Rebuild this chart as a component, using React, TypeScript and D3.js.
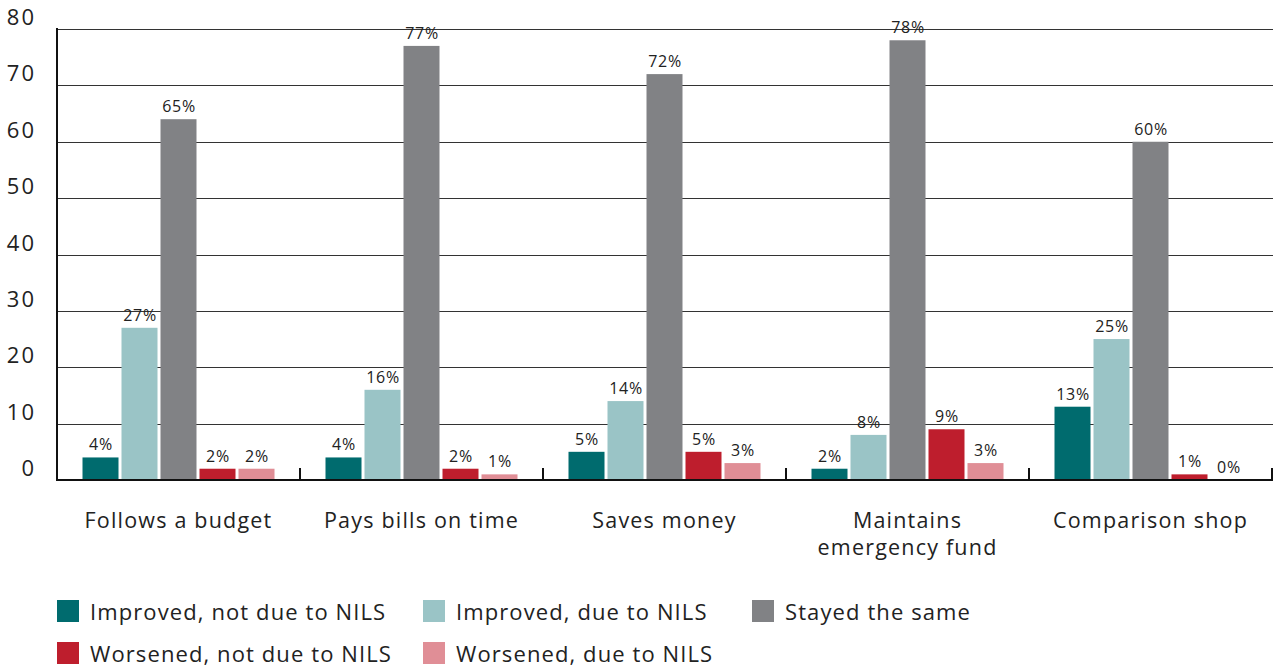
import React from "react";
import * as d3 from "d3";

const categories = [
  ["Follows a budget"],
  ["Pays bills on time"],
  ["Saves money"],
  ["Maintains", "emergency fund"],
  ["Comparison shop"],
];
const seriesNames = [
  "Improved, not due to NILS",
  "Improved, due to NILS",
  "Stayed the same",
  "Worsened, not due to NILS",
  "Worsened, due to NILS",
];
const seriesColors = ["#006B6E", "#9AC4C6", "#818285", "#BE1E2D", "#E08E96"];
// bar heights per category (series order)
const improvedNot = [4, 4, 5, 2, 13];
const improvedDue = [27, 16, 14, 8, 25];
const stayedSame = [64, 77, 72, 78, 60];
const worsenedNot = [2, 2, 5, 9, 1];
const worsenedDue = [2, 1, 3, 3, 0];
const labelsImprovedNot = ["4%", "4%", "5%", "2%", "13%"];
const labelsImprovedDue = ["27%", "16%", "14%", "8%", "25%"];
const labelsStayed = ["65%", "77%", "72%", "78%", "60%"];
const labelsWorsenedNot = ["2%", "2%", "5%", "9%", "1%"];
const labelsWorsenedDue = ["2%", "1%", "3%", "3%", "0%"];
const yTicks = [0, 10, 20, 30, 40, 50, 60, 70, 80];

const series = [improvedNot, improvedDue, stayedSame, worsenedNot, worsenedDue];
const seriesLabels = [labelsImprovedNot, labelsImprovedDue, labelsStayed, labelsWorsenedNot, labelsWorsenedDue];

const FONT = "'Open Sans', sans-serif";

export default function App() {
  const W = 1279, H = 668;
  const left = 57, right = 1272, top = 29, bottom = 480;
  const y = d3.scaleLinear().domain([0, 80]).range([bottom, top]);
  const x0 = d3.scaleBand<number>().domain(d3.range(categories.length)).range([left, right]).padding(0);
  const gw = x0.bandwidth();
  const x1 = d3.scaleBand<number>().domain(d3.range(series.length))
    .range([25.5, gw - 25.5]).paddingInner(3 / 39).paddingOuter(0);

  const legendItems = [
    { i: 0, x: 57, y: 600 },
    { i: 1, x: 423, y: 600 },
    { i: 2, x: 752, y: 600 },
    { i: 3, x: 57, y: 642 },
    { i: 4, x: 423, y: 642 },
  ];

  return (
    <svg width={W} height={H} style={{ position: "absolute", left: 0, top: 0 }} fontFamily={FONT}>
      {/* gridlines */}
      {yTicks.filter(t => t > 0).map(t => (
        <line key={t} x1={left} x2={right + 1} y1={Math.round(y(t)) + 0.5} y2={Math.round(y(t)) + 0.5} stroke="#333" strokeWidth={1.2} />
      ))}
      {/* y labels */}
      {yTicks.map(t => (
        <text key={t} x={36} y={y(t) - 4} textAnchor="end" fontSize={22} letterSpacing={2} fill="#222">{t}</text>
      ))}
      {/* bars */}
      {categories.map((c, ci) => (
        <g key={ci} transform={`translate(${x0(ci)},0)`}>
          {series.map((s, si) => (
            <g key={si}>
              {s[ci] > 0 && (
                <rect x={x1(si)} width={x1.bandwidth()} y={y(s[ci])} height={y(0) - y(s[ci])} fill={seriesColors[si]} />
              )}
              <text x={(x1(si) as number) + x1.bandwidth() / 2 + 0.5} y={y(s[ci]) - 7} textAnchor="middle" fontSize={16} letterSpacing={0.7} fill="#222">
                {seriesLabels[si][ci]}
              </text>
            </g>
          ))}
        </g>
      ))}
      {/* axes */}
      <line x1={left} x2={left} y1={top - 1} y2={bottom + 1} stroke="#111" strokeWidth={2} />
      <line x1={left - 1} x2={right + 1} y1={bottom} y2={bottom} stroke="#111" strokeWidth={2} />
      {categories.map((c, ci) => (
        <line key={ci} x1={(x0(ci) as number) + gw} x2={(x0(ci) as number) + gw} y1={bottom - 12} y2={bottom} stroke="#111" strokeWidth={2} />
      ))}
      {/* category labels */}
      {categories.map((c, ci) => (
        <text key={ci} x={(x0(ci) as number) + gw / 2} y={528} textAnchor="middle" fontSize={21.5} letterSpacing={1.2} fill="#222">
          {c.map((line, li) => (
            <tspan key={li} x={(x0(ci) as number) + gw / 2} dy={li === 0 ? 0 : 27}>{line}</tspan>
          ))}
        </text>
      ))}
      {/* legend */}
      {legendItems.map(it => (
        <g key={it.i}>
          <rect x={it.x} y={it.y} width={22} height={22} fill={seriesColors[it.i]} />
          <text x={it.x + 33} y={it.y + 20} fontSize={22} letterSpacing={1.1} fill="#222">{seriesNames[it.i]}</text>
        </g>
      ))}
    </svg>
  );
}
